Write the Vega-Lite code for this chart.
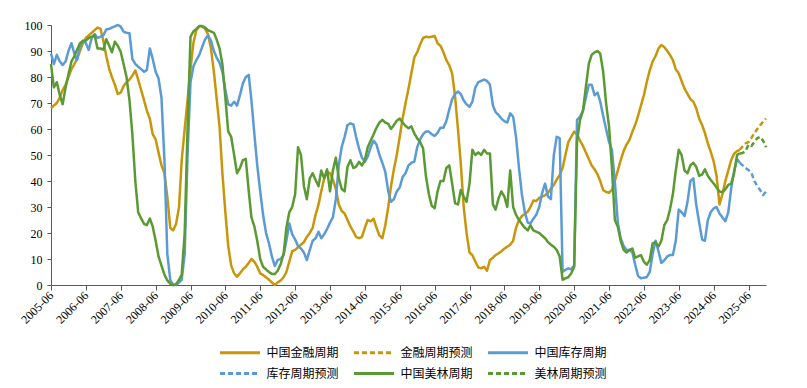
{
"$schema":"https://vega.github.io/schema/vega-lite/v6.json",
"width":715,"height":260,
"autosize":{"type":"none"},
"padding":{"left":51,"top":25,"right":41,"bottom":103},
"background":"white",
"data":{"values":[
{"d":"2005-06","F":68,"I":89,"A":85},{"d":"2005-07","F":69,"I":85,"A":76},{"d":"2005-08","F":70,"I":88.5,"A":78},{"d":"2005-09","F":72,"I":86,"A":73},{"d":"2005-10","F":75,"I":84.6,"A":69.5},{"d":"2005-11","F":77,"I":86,"A":76},{"d":"2005-12","F":80,"I":90,"A":81},
{"d":"2006-01","F":83,"I":93,"A":86},{"d":"2006-02","F":85,"I":89,"A":88},{"d":"2006-03","F":87,"I":86.5,"A":90.5},{"d":"2006-04","F":90,"I":92,"A":93},{"d":"2006-05","F":93,"I":94,"A":93.8},{"d":"2006-06","F":95,"I":93,"A":94},{"d":"2006-07","F":96,"I":90.4,"A":95},{"d":"2006-08","F":97,"I":95,"A":95.5},{"d":"2006-09","F":98,"I":96.5,"A":96},{"d":"2006-10","F":99,"I":95,"A":91},{"d":"2006-11","F":98.5,"I":95.5,"A":91},{"d":"2006-12","F":94,"I":96,"A":90.5},
{"d":"2007-01","F":88,"I":98.3,"A":94.5},{"d":"2007-02","F":83,"I":98.5,"A":92},{"d":"2007-03","F":80,"I":99,"A":89.5},{"d":"2007-04","F":77,"I":99.5,"A":93.6},{"d":"2007-05","F":73.5,"I":100,"A":92},{"d":"2007-06","F":74,"I":99.4,"A":89.7},{"d":"2007-07","F":76.5,"I":97.4,"A":85},{"d":"2007-08","F":78,"I":97,"A":80},{"d":"2007-09","F":79,"I":96.8,"A":71},{"d":"2007-10","F":80.5,"I":87,"A":58},{"d":"2007-11","F":82.5,"I":85,"A":40},{"d":"2007-12","F":79,"I":84,"A":28},
{"d":"2008-01","F":75,"I":83,"A":25.6},{"d":"2008-02","F":71,"I":82,"A":23.5},{"d":"2008-03","F":67,"I":82.7,"A":23},{"d":"2008-04","F":64,"I":91,"A":25.6},{"d":"2008-05","F":58,"I":87,"A":22.5},{"d":"2008-06","F":56,"I":82,"A":17},{"d":"2008-07","F":51,"I":79.5,"A":11},{"d":"2008-08","F":46,"I":72,"A":7.5},{"d":"2008-09","F":43,"I":48,"A":4},{"d":"2008-10","F":34,"I":12,"A":1.8},{"d":"2008-11","F":22,"I":2,"A":0.5},{"d":"2008-12","F":21,"I":0,"A":0},
{"d":"2009-01","F":23.5,"I":0,"A":0.3},{"d":"2009-02","F":30,"I":1,"A":2},{"d":"2009-03","F":48,"I":2,"A":4},{"d":"2009-04","F":60,"I":12,"A":20},{"d":"2009-05","F":71,"I":50,"A":60},{"d":"2009-06","F":83,"I":78,"A":95.5},{"d":"2009-07","F":93,"I":84,"A":97.5},{"d":"2009-08","F":98,"I":86.5,"A":98.5},{"d":"2009-09","F":99.5,"I":88.5,"A":99.6},{"d":"2009-10","F":99.5,"I":91.5,"A":99.6},{"d":"2009-11","F":98.5,"I":94.5,"A":99},{"d":"2009-12","F":96.5,"I":96,"A":98},
{"d":"2010-01","F":91,"I":94,"A":97.5},{"d":"2010-02","F":82,"I":90,"A":97},{"d":"2010-03","F":72,"I":87.5,"A":94.5},{"d":"2010-04","F":61,"I":85.5,"A":91},{"d":"2010-05","F":43,"I":82,"A":85},{"d":"2010-06","F":28,"I":75,"A":72},{"d":"2010-07","F":15,"I":69.5,"A":59},{"d":"2010-08","F":7.5,"I":69,"A":57},{"d":"2010-09","F":4.5,"I":70.5,"A":50},{"d":"2010-10","F":3.2,"I":69,"A":43},{"d":"2010-11","F":4.5,"I":73,"A":45},{"d":"2010-12","F":6,"I":77.5,"A":48},
{"d":"2011-01","F":7,"I":80,"A":48.5},{"d":"2011-02","F":8.5,"I":80.8,"A":36},{"d":"2011-03","F":10,"I":71,"A":26},{"d":"2011-04","F":9,"I":58,"A":22.5},{"d":"2011-05","F":7,"I":46,"A":17},{"d":"2011-06","F":4.5,"I":36,"A":10},{"d":"2011-07","F":3.8,"I":27,"A":7},{"d":"2011-08","F":3,"I":20,"A":6},{"d":"2011-09","F":2,"I":16,"A":5},{"d":"2011-10","F":1,"I":11,"A":4.3},{"d":"2011-11","F":0,"I":7.3,"A":4.2},{"d":"2011-12","F":1,"I":9.6,"A":5.5},
{"d":"2012-01","F":1.7,"I":10,"A":8},{"d":"2012-02","F":3,"I":11.5,"A":12},{"d":"2012-03","F":5,"I":17,"A":22},{"d":"2012-04","F":9,"I":23.7,"A":28},{"d":"2012-05","F":13,"I":19.5,"A":30},{"d":"2012-06","F":13.5,"I":17.5,"A":35},{"d":"2012-07","F":14.5,"I":15,"A":53},{"d":"2012-08","F":15.5,"I":14,"A":50},{"d":"2012-09","F":16.5,"I":12.5,"A":38},{"d":"2012-10","F":18.5,"I":9.6,"A":33},{"d":"2012-11","F":20,"I":13.5,"A":41},{"d":"2012-12","F":22,"I":17,"A":43},
{"d":"2013-01","F":27,"I":18,"A":40.4},{"d":"2013-02","F":31,"I":20.5,"A":38},{"d":"2013-03","F":36,"I":18,"A":44},{"d":"2013-04","F":41,"I":19.5,"A":41},{"d":"2013-05","F":43.5,"I":21.5,"A":44.5},{"d":"2013-06","F":43,"I":24,"A":36},{"d":"2013-07","F":40.5,"I":26,"A":44},{"d":"2013-08","F":37,"I":33,"A":49},{"d":"2013-09","F":31,"I":46,"A":41},{"d":"2013-10","F":28.5,"I":53,"A":37},{"d":"2013-11","F":27.5,"I":57,"A":36},{"d":"2013-12","F":25,"I":61.5,"A":45.5},
{"d":"2014-01","F":22.5,"I":62.2,"A":48},{"d":"2014-02","F":20.5,"I":61.7,"A":45},{"d":"2014-03","F":18.5,"I":57,"A":45.5},{"d":"2014-04","F":18,"I":52.5,"A":47.4},{"d":"2014-05","F":18.5,"I":49,"A":46},{"d":"2014-06","F":22,"I":47.4,"A":48},{"d":"2014-07","F":25,"I":49.4,"A":53},{"d":"2014-08","F":24.5,"I":53,"A":55.5},{"d":"2014-09","F":25.5,"I":55.5,"A":58},{"d":"2014-10","F":22,"I":54,"A":60.5},{"d":"2014-11","F":19,"I":50,"A":62.5},{"d":"2014-12","F":18,"I":47,"A":63.5},
{"d":"2015-01","F":23,"I":43.5,"A":62.5},{"d":"2015-02","F":30,"I":36,"A":62},{"d":"2015-03","F":37.8,"I":32,"A":60},{"d":"2015-04","F":44.5,"I":33,"A":61.5},{"d":"2015-05","F":50,"I":36,"A":63.2},{"d":"2015-06","F":57,"I":37.5,"A":64},{"d":"2015-07","F":64,"I":41.5,"A":62.5},{"d":"2015-08","F":70,"I":43,"A":61.2},{"d":"2015-09","F":75.5,"I":46,"A":60.3},{"d":"2015-10","F":81.4,"I":47,"A":61},{"d":"2015-11","F":87.5,"I":47.4,"A":58.3},{"d":"2015-12","F":89.5,"I":53,"A":56.4},
{"d":"2016-01","F":92.5,"I":56,"A":55},{"d":"2016-02","F":95,"I":58,"A":52.5},{"d":"2016-03","F":95.5,"I":59,"A":42},{"d":"2016-04","F":95.3,"I":59,"A":35},{"d":"2016-05","F":95.5,"I":58,"A":30.5},{"d":"2016-06","F":95.8,"I":57.3,"A":29.5},{"d":"2016-07","F":93,"I":58.5,"A":36},{"d":"2016-08","F":92,"I":60.5,"A":40},{"d":"2016-09","F":89.5,"I":60.5,"A":40},{"d":"2016-10","F":86.5,"I":63,"A":45},{"d":"2016-11","F":84.5,"I":67.5,"A":46},{"d":"2016-12","F":81.4,"I":71.5,"A":39},
{"d":"2017-01","F":72.4,"I":73.5,"A":31.4},{"d":"2017-02","F":59.6,"I":74.4,"A":31},{"d":"2017-03","F":47,"I":73.5,"A":36.5},{"d":"2017-04","F":30,"I":71,"A":34},{"d":"2017-05","F":20,"I":69.5,"A":32},{"d":"2017-06","F":12.5,"I":68.5,"A":39},{"d":"2017-07","F":11.5,"I":70.5,"A":52},{"d":"2017-08","F":9,"I":76,"A":50},{"d":"2017-09","F":6.8,"I":78,"A":51},{"d":"2017-10","F":6.4,"I":78.5,"A":50},{"d":"2017-11","F":7,"I":79,"A":52},{"d":"2017-12","F":5.5,"I":78.5,"A":50.6},
{"d":"2018-01","F":9.6,"I":77,"A":50.6},{"d":"2018-02","F":10.5,"I":69,"A":31},{"d":"2018-03","F":11.5,"I":66.5,"A":29},{"d":"2018-04","F":12.2,"I":65.4,"A":33.3},{"d":"2018-05","F":13,"I":64,"A":36},{"d":"2018-06","F":14,"I":63,"A":34},{"d":"2018-07","F":14.7,"I":62.5,"A":30},{"d":"2018-08","F":15.5,"I":66,"A":44},{"d":"2018-09","F":17,"I":64.7,"A":30},{"d":"2018-10","F":22,"I":57,"A":27},{"d":"2018-11","F":25,"I":45,"A":25},{"d":"2018-12","F":26.5,"I":35,"A":23.5},
{"d":"2019-01","F":27.3,"I":28,"A":22},{"d":"2019-02","F":28.2,"I":24,"A":21},{"d":"2019-03","F":30,"I":23.7,"A":23},{"d":"2019-04","F":32.5,"I":25.5,"A":21},{"d":"2019-05","F":32.3,"I":27,"A":20.5},{"d":"2019-06","F":33.5,"I":30,"A":20},{"d":"2019-07","F":34,"I":35.3,"A":19},{"d":"2019-08","F":34.5,"I":39,"A":18},{"d":"2019-09","F":35.5,"I":34,"A":16.5},{"d":"2019-10","F":37,"I":33,"A":15.5},{"d":"2019-11","F":38.5,"I":50,"A":14.7},{"d":"2019-12","F":40.5,"I":57,"A":13.5},
{"d":"2020-01","F":42.3,"I":56.5,"A":11},{"d":"2020-02","F":45,"I":5,"A":2},{"d":"2020-03","F":50,"I":5.8,"A":2.6},{"d":"2020-04","F":55,"I":6.4,"A":3},{"d":"2020-05","F":57,"I":6,"A":4.5},{"d":"2020-06","F":59,"I":7.5,"A":7},{"d":"2020-07","F":58,"I":63.5,"A":55},{"d":"2020-08","F":55.5,"I":64.7,"A":63.5},{"d":"2020-09","F":53.5,"I":67,"A":67},{"d":"2020-10","F":51,"I":72,"A":76},{"d":"2020-11","F":48.5,"I":77,"A":85},{"d":"2020-12","F":46,"I":77,"A":88.5},
{"d":"2021-01","F":44.5,"I":73,"A":89.5},{"d":"2021-02","F":42.5,"I":74,"A":90},{"d":"2021-03","F":40,"I":70.5,"A":89},{"d":"2021-04","F":36.5,"I":65,"A":82},{"d":"2021-05","F":35.8,"I":60,"A":70},{"d":"2021-06","F":35.5,"I":55,"A":61},{"d":"2021-07","F":36.5,"I":52,"A":45.5},{"d":"2021-08","F":40,"I":40,"A":25},{"d":"2021-09","F":44,"I":24,"A":22.4},{"d":"2021-10","F":48,"I":18,"A":17},{"d":"2021-11","F":51.5,"I":15,"A":13.5},{"d":"2021-12","F":54,"I":13.5,"A":12.5},
{"d":"2022-01","F":55.8,"I":13.5,"A":13.5},{"d":"2022-02","F":59,"I":12.5,"A":14},{"d":"2022-03","F":61.5,"I":8,"A":10.5},{"d":"2022-04","F":65,"I":3.5,"A":11},{"d":"2022-05","F":69,"I":2.6,"A":11.5},{"d":"2022-06","F":73,"I":2.8,"A":9},{"d":"2022-07","F":78,"I":3,"A":7.8},{"d":"2022-08","F":82.5,"I":5,"A":9.6},{"d":"2022-09","F":86,"I":12,"A":16},{"d":"2022-10","F":88,"I":17,"A":16.5},{"d":"2022-11","F":91,"I":13,"A":14.8},{"d":"2022-12","F":92.3,"I":8.5,"A":17},
{"d":"2023-01","F":91.5,"I":9.5,"A":23},{"d":"2023-02","F":90,"I":11,"A":25},{"d":"2023-03","F":88.5,"I":11.5,"A":29},{"d":"2023-04","F":86.5,"I":11.5,"A":35},{"d":"2023-05","F":83,"I":17,"A":44},{"d":"2023-06","F":81.4,"I":29,"A":52},{"d":"2023-07","F":78.5,"I":28,"A":50},{"d":"2023-08","F":75.5,"I":26.5,"A":44},{"d":"2023-09","F":73.5,"I":32,"A":43},{"d":"2023-10","F":71.5,"I":40,"A":46},{"d":"2023-11","F":70.5,"I":41,"A":47},{"d":"2023-12","F":68,"I":31,"A":45.5},
{"d":"2024-01","F":64,"I":24,"A":42},{"d":"2024-02","F":61.5,"I":17.5,"A":42.5},{"d":"2024-03","F":58.5,"I":17,"A":44.5},{"d":"2024-04","F":54.5,"I":25,"A":42},{"d":"2024-05","F":51.3,"I":28,"A":40.4},{"d":"2024-06","F":47.5,"I":29.5,"A":39},{"d":"2024-07","F":42,"I":30,"A":37.5},{"d":"2024-08","F":31,"I":27.5,"A":36},{"d":"2024-09","F":35,"I":26,"A":35.6},{"d":"2024-10","F":40,"I":24.5,"A":36.8},{"d":"2024-11","F":44,"I":28,"A":38.5},{"d":"2024-12","F":48,"I":37,"A":39},
{"d":"2025-01","F":50.5,"I":44,"A":43},{"d":"2025-02","F":51.5,"I":48.5,"A":50},{"d":"2025-03","F":52,"I":47,"A":50.6,"FP":52,"IP":47,"AP":50.6},
{"d":"2025-04","FP":53.3,"IP":46,"AP":50.8},{"d":"2025-05","FP":54.5,"IP":45,"AP":51.5},{"d":"2025-06","FP":55,"IP":44.2,"AP":54},{"d":"2025-07","FP":56.5,"IP":43.2,"AP":53.5},{"d":"2025-08","FP":58.5,"IP":40,"AP":55},{"d":"2025-09","FP":60,"IP":38,"AP":56.5},{"d":"2025-10","FP":61.5,"IP":36.5,"AP":57},{"d":"2025-11","FP":62.8,"IP":34.6,"AP":55.5},{"d":"2025-12","FP":64,"IP":35.9,"AP":53}
]},
"transform":[
{"fold":["F","FP","I","IP","A","AP"],"as":["k","v"]},
{"filter":"isValid(datum.v)"},
{"lookup":"k","from":{"data":{"values":[{"k":"F","s":"中国金融周期"},{"k":"FP","s":"金融周期预测"},{"k":"I","s":"中国库存周期"},{"k":"IP","s":"库存周期预测"},{"k":"A","s":"中国美林周期"},{"k":"AP","s":"美林周期预测"}]},"key":"k","fields":["s"]}}
],
"mark":{"type":"line","strokeWidth":2.5,"strokeJoin":"round"},
"encoding":{
"x":{"field":"d","type":"temporal","scale":{"type":"utc","nice":false,"domain":[{"year":2005,"month":6,"date":1,"utc":true},{"year":2025,"month":12,"date":1,"utc":true}]},
"axis":{"title":null,"format":"%Y-%m","values":[{"year":2005,"month":6,"utc":true},{"year":2006,"month":6,"utc":true},{"year":2007,"month":6,"utc":true},{"year":2008,"month":6,"utc":true},{"year":2009,"month":6,"utc":true},{"year":2010,"month":6,"utc":true},{"year":2011,"month":6,"utc":true},{"year":2012,"month":6,"utc":true},{"year":2013,"month":6,"utc":true},{"year":2014,"month":6,"utc":true},{"year":2015,"month":6,"utc":true},{"year":2016,"month":6,"utc":true},{"year":2017,"month":6,"utc":true},{"year":2018,"month":6,"utc":true},{"year":2019,"month":6,"utc":true},{"year":2020,"month":6,"utc":true},{"year":2021,"month":6,"utc":true},{"year":2022,"month":6,"utc":true},{"year":2023,"month":6,"utc":true},{"year":2024,"month":6,"utc":true},{"year":2025,"month":6,"utc":true}],
"labelAngle":-45,"labelAlign":"right","labelBaseline":"middle","labelFont":"Liberation Serif","labelFontSize":12,"labelColor":"#000","labelPadding":3,"tickSize":5,"tickColor":"#595959","domainColor":"#595959","grid":false,"labelOverlap":false,"labelFlush":false}},
"y":{"field":"v","type":"quantitative","scale":{"domain":[0,100],"nice":false},
"axis":{"title":null,"values":[0,10,20,30,40,50,60,70,80,90,100],"labelFont":"Liberation Serif","labelFontSize":12,"labelColor":"#000","labelPadding":5,"tickSize":4,"tickColor":"#595959","domainColor":"#595959","grid":false}},
"color":{"field":"s","type":"nominal","scale":{"domain":["中国金融周期","金融周期预测","中国库存周期","库存周期预测","中国美林周期","美林周期预测"],"range":["#C8960A","#C8960A","#5B9BD5","#5B9BD5","#5A9A32","#5A9A32"]},"legend":{"title":null}},
"strokeDash":{"field":"s","type":"nominal","scale":{"domain":["中国金融周期","金融周期预测","中国库存周期","库存周期预测","中国美林周期","美林周期预测"],"range":[[1,0],[5,3],[1,0],[5,3],[1,0],[5,3]]},"legend":{"title":null}}
},
"config":{
"view":{"stroke":null},
"legend":{"orient":"none","legendX":178.5,"legendY":317,"direction":"horizontal","columns":3,"symbolType":"M-2.2222,0H2.2222","symbolSize":324,"symbolStrokeWidth":3,"labelFont":"Noto Sans CJK SC","labelFontSize":12,"labelColor":"#000","columnPadding":8,"rowPadding":4,"labelOffset":16}
}
}
